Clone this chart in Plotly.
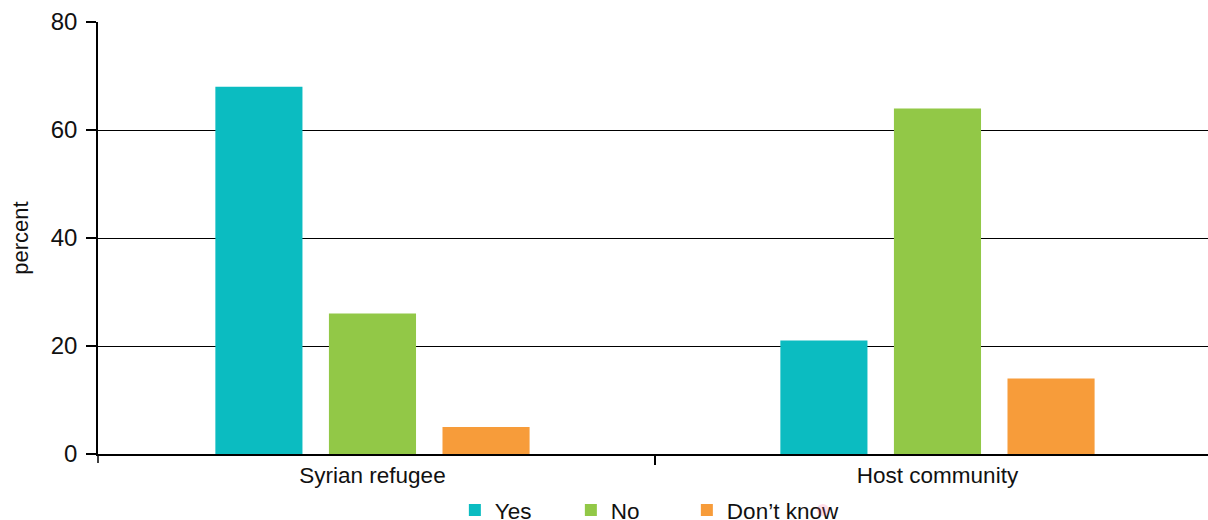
import plotly.graph_objects as go

categories = ["Syrian refugee", "Host community"]
series_names = ["Yes", "No", "Don\u2019t know"]
yes_vals = [68, 21]
no_vals = [26, 64]
dk_vals = [5, 14]
y_ticks = [0, 20, 40, 60, 80]

colors = ["#0BBCC1", "#92C847", "#F79C3A"]
FONT = "Liberation Sans, Arial, sans-serif"

fig = go.Figure()
for name, vals, col in zip(series_names, [yes_vals, no_vals, dk_vals], colors):
    fig.add_trace(go.Bar(x=categories, y=vals, name=name, showlegend=False,
                         marker=dict(color=col, line=dict(width=0))))
# legend entries with larger square swatches
for name, col in zip(series_names, colors):
    fig.add_trace(go.Scatter(x=[None], y=[None], mode="markers", name=name,
                             marker=dict(symbol="square", size=17, color=col)))
# invisible spacer entry so the last legend label is not clipped
fig.add_trace(go.Scatter(x=[None], y=[None], mode="markers", name=" ",
                         marker=dict(size=1, opacity=0), hoverinfo="skip"))

fig.update_layout(
    width=1208, height=540,
    margin=dict(l=98, r=0, t=22, b=86, autoexpand=False),
    paper_bgcolor="white", plot_bgcolor="white",
    barmode="group", bargap=0.397, bargroupgap=0.233,
    font=dict(family=FONT, size=22, color="#111111"),
    showlegend=True,
    legend=dict(orientation="h", x=0.3215, xanchor="left", y=-0.0805, yanchor="top",
                font=dict(size=22.5), entrywidth=71, entrywidthmode="pixels",
                traceorder="normal", itemsizing="constant",
                itemclick=False, itemdoubleclick=False),
)
fig.update_xaxes(
    range=[-0.4858, 1.4788], showgrid=False, showline=True, linecolor="black", linewidth=1.5,
    ticks="outside", tickson="boundaries", ticklen=9, tickcolor="black", tickwidth=1.5,
    tickfont=dict(size=22.5), fixedrange=True, automargin=False,
)
fig.update_yaxes(
    range=[0, 80], tickvals=y_ticks, showgrid=True, gridcolor="black", gridwidth=1,
    showline=True, linecolor="black", linewidth=1.5, ticks="outside", ticklen=10,
    tickcolor="black", tickwidth=1.5, tickfont=dict(size=24), zeroline=False,
    title=dict(text="percent", font=dict(size=22), standoff=16), ticklabelstandoff=4,
    automargin=False, fixedrange=True,
)
# small downward extension of the y-axis line below the x-axis
fig.add_shape(type="line", xref="paper", yref="paper", x0=0, x1=0, y0=0, y1=-0.021,
              line=dict(color="black", width=1.5))

fig.write_html("out.html", config={"displayModeBar": False},
               post_script="document.body.style.margin='0';document.body.style.overflow='hidden';")
